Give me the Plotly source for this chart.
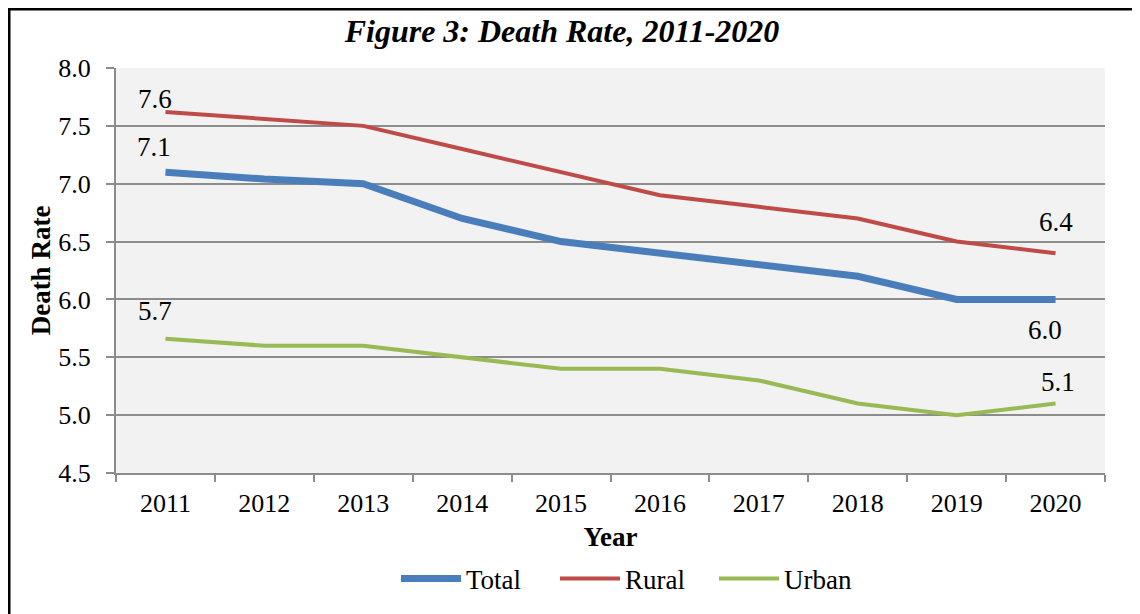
import plotly.graph_objects as go

years = ["2011", "2012", "2013", "2014", "2015", "2016", "2017", "2018", "2019", "2020"]
total = [7.10, 7.04, 7.00, 6.70, 6.50, 6.40, 6.30, 6.20, 6.00, 6.00]
rural = [7.62, 7.56, 7.50, 7.30, 7.10, 6.90, 6.80, 6.70, 6.50, 6.40]
urban = [5.66, 5.60, 5.60, 5.50, 5.40, 5.40, 5.30, 5.10, 5.00, 5.10]

series_names = ["Total", "Rural", "Urban"]
series_colors = ["#4A7EBB", "#BE4B48", "#98B954"]
series_widths = [7, 4, 4]
# pixel offsets (dx, dy-up) of the first / last value labels
label_shift = {
    "Total": ((-11, 25), (-11, -31)),
    "Rural": ((-10, 13), (0, 31)),
    "Urban": ((-10, 28), (2, 22)),
}

FONT = "Liberation Serif, Times New Roman, serif"

# page body has an 8px margin: figure drawn from (8,8)
W, H = 1132, 606
L, T = 108, 60
PW, PH = 989, 405
R = W - L - PW
B = H - T - PH

fig = go.Figure()
annotations = []
for name, vals, col, w in zip(series_names, [total, rural, urban], series_colors, series_widths):
    fig.add_trace(go.Scatter(
        x=years, y=vals, name=name, mode="lines",
        line=dict(color=col, width=w),
    ))
    for k, i in enumerate((0, len(vals) - 1)):
        dx, dy = label_shift[name][k]
        annotations.append(dict(
            x=i, y=vals[i], xref="x", yref="y",  # category index on the x axis
            text=f"{vals[i]:.1f}", showarrow=False,
            xanchor="center", yanchor="middle", xshift=dx, yshift=dy,
            font=dict(family=FONT, size=27, color="#000000"),
        ))

fig.update_layout(
    width=W, height=H, autosize=False,
    margin=dict(l=L, r=R, t=T, b=B, autoexpand=False),
    paper_bgcolor="white", plot_bgcolor="#F2F2F2",
    font=dict(family=FONT, size=27, color="#000000"),
    title=dict(text="<b><i>Figure 3: Death Rate, 2011-2020</i></b>",
               x=(562 - 8) / W, xanchor="center", xref="container",
               y=1 - (31 - 8) / H, yanchor="middle", yref="container",
               font=dict(family=FONT, size=32, color="#000000")),
    legend=dict(orientation="h", x=(396 - 116) / PW, xanchor="left",
                y=(473 - 579) / PH, yanchor="middle",
                font=dict(family=FONT, size=27, color="#000000"),
                itemwidth=60, entrywidth=84, entrywidthmode="pixels",
                traceorder="normal", bgcolor="rgba(0,0,0,0)"),
    showlegend=True,
    annotations=annotations,
)

fig.update_xaxes(
    type="category", categoryorder="array", categoryarray=years,
    range=[-0.5, len(years) - 0.5], automargin=False,
    tickson="boundaries", ticks="outside", ticklen=7,
    tickcolor="#8C8C8C", tickwidth=2,
    showline=True, linecolor="#8C8C8C", linewidth=2,
    showgrid=False, ticklabelstandoff=6,
    tickfont=dict(family=FONT, size=26),
    title=dict(text="<b>Year</b>", font=dict(family=FONT, size=27), standoff=10),
)
fig.update_yaxes(
    range=[4.5, 8.0], dtick=0.5, tick0=4.5, tickformat=".1f", automargin=False,
    ticks="outside", ticklen=8, tickcolor="#8C8C8C", tickwidth=2,
    showline=True, linecolor="#8C8C8C", linewidth=2,
    showgrid=True, gridcolor="#8C8C8C", gridwidth=2, zeroline=False,
    ticklabelstandoff=10,
    tickfont=dict(family=FONT, size=26),
    title=dict(text="<b>Death Rate</b>", font=dict(family=FONT, size=27), standoff=0),
)

# outer black frame of the chart
fig.add_shape(type="rect", xref="paper", yref="paper",
              x0=(1 - L) / PW, x1=(W + 30 - L) / PW,
              y0=((T + PH) - (H + 30)) / PH, y1=((T + PH) - 1) / PH,
              line=dict(color="black", width=3), fillcolor="rgba(0,0,0,0)", layer="below")

fig.write_html("out.html",
               post_script="document.documentElement.style.overflow='hidden';document.body.style.overflow='hidden';")
